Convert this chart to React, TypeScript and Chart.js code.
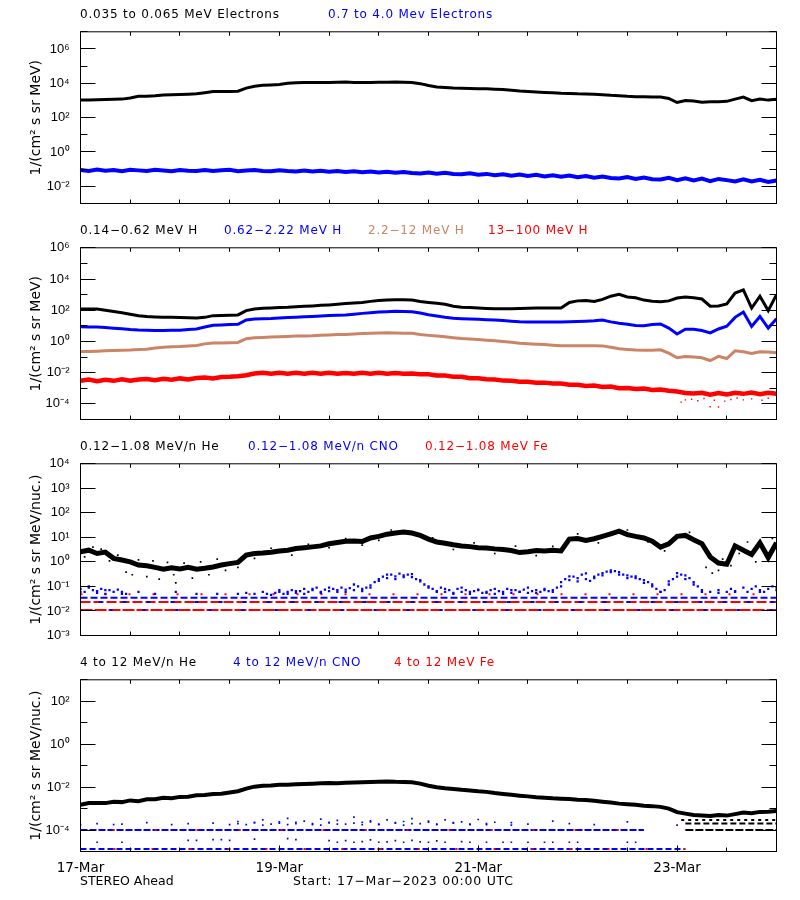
import React, { useEffect, useRef } from 'react';
import { Chart, registerables } from 'chart.js';

Chart.register(...registerables);

// ---------------- data (hours from 17-Mar-2023 00:00 UTC) ----------------
const xTickHours = [0, 48, 96, 144];
const xTickLabels = ['17-Mar', '19-Mar', '21-Mar', '23-Mar'];

// Panel 1 (2-hour samples, h = 0..168)
const p1Electrons035 = [1050,1070,1120,1150,1170,1200,1410,1740,1780,1900,
  2090,2140,2240,2340,2450,2820,3310,3310,3390,3470,
  5250,6760,7590,7940,8510,10000,10700,11000,11000,11200,
  11200,11500,12000,11200,11200,11200,11500,11700,12000,11500,
  11200,9550,7410,6030,5750,5250,5130,5010,4790,4790,
  4570,4370,3980,3550,3390,3160,2950,2820,2630,2570,
  2450,2400,2340,2190,2000,1900,1740,1660,1660,1620,
  1580,1320,760,1000,930,780,830,850,890,1200,
  1580,980,1200,1050,1170];
const p1Electrons07 = [0.088,0.078,0.094,0.082,0.09,0.077,0.092,0.085,0.079,0.091,
  0.083,0.076,0.09,0.081,0.078,0.088,0.077,0.086,0.091,0.076,
  0.084,0.088,0.079,0.075,0.086,0.078,0.074,0.084,0.073,0.08,
  0.071,0.078,0.068,0.076,0.066,0.073,0.063,0.071,0.061,0.068,
  0.06,0.056,0.064,0.054,0.061,0.052,0.05,0.057,0.047,0.053,
  0.045,0.051,0.042,0.048,0.04,0.047,0.038,0.044,0.036,0.042,
  0.034,0.04,0.032,0.037,0.031,0.029,0.035,0.027,0.033,0.026,
  0.025,0.031,0.023,0.029,0.022,0.028,0.02,0.027,0.023,0.019,
  0.026,0.019,0.024,0.018,0.022];

// Panel 2 (2-hour samples)
const p2H014 = [120,120,120,100,83,70,56,45,40,37,
  35,35,34,33,32,35,45,46,48,50,
  95,120,132,140,151,158,170,178,190,205,
  219,240,269,290,316,370,417,450,468,468,
  457,363,316,282,240,178,158,150,141,130,
  123,123,126,130,135,138,138,141,141,316,
  398,417,363,500,794,1050,708,631,447,380,
  355,398,603,692,631,525,182,190,251,1260,
  2000,138,794,95,1000];
const p2H062 = [8.7,8.5,8.3,7.8,7.1,6.5,5.8,5.4,5.2,5.1,
  5.1,5.2,5.2,5.8,6.3,8.5,11,11.5,12,12.6,
  24,27,29,30,32,34,36,38,40,43,
  46,48,50,56,63,70,76,81,85,84,
  79,66,52,43,35,31,29,27.5,26,25,
  24,22,20,18.5,17.8,17.4,17.4,17.4,17.4,18,
  19,20,21,23.4,18,14.5,12.6,10.5,10,12,
  13.2,7.2,3,6,6,5,3.5,6.3,9.5,35,
  76,9.1,40,7.2,28];
const p2H22 = [0.23,0.23,0.24,0.25,0.26,0.27,0.28,0.3,0.32,0.38,
  0.43,0.45,0.47,0.52,0.56,0.7,0.79,0.81,0.83,0.87,
  1.5,1.7,1.8,1.9,2.0,2.1,2.2,2.25,2.3,2.5,
  2.6,2.75,2.8,3.0,3.2,3.4,3.5,3.6,3.5,3.4,
  3.3,2.8,2.45,2.2,2.0,1.75,1.55,1.45,1.32,1.2,
  1.1,1.0,0.89,0.78,0.71,0.66,0.63,0.58,0.54,0.54,
  0.54,0.54,0.53,0.52,0.43,0.34,0.31,0.28,0.27,0.27,
  0.29,0.18,0.09,0.11,0.1,0.09,0.06,0.11,0.08,0.25,
  0.22,0.17,0.22,0.21,0.19];
const p2H13 = [0.003,0.0036,0.0028,0.0035,0.003,0.0038,0.0031,0.0037,0.0039,0.0033,
  0.0041,0.0035,0.0043,0.0037,0.0045,0.0049,0.0043,0.0052,0.0054,0.0059,
  0.0068,0.0088,0.0097,0.0084,0.0099,0.0086,0.0097,0.0085,0.01,0.0087,
  0.0098,0.0085,0.0096,0.0084,0.0098,0.0087,0.0097,0.0084,0.0095,0.0086,
  0.0088,0.008,0.0079,0.0066,0.0065,0.0055,0.0055,0.0044,0.0044,0.0038,
  0.0036,0.0031,0.003,0.0026,0.0026,0.0023,0.0023,0.002,0.002,0.0017,
  0.0017,0.0014,0.0015,0.0012,0.0013,0.001,0.00105,0.0009,0.00095,0.00079,
  0.00082,0.0007,0.00062,0.0005,0.00047,0.00052,0.00039,0.0005,0.0004,0.00052,
  0.00044,0.00054,0.00042,0.00052,0.00045];
const p2H13OutHours = [145,146,147.5,149,150.5,152,153,154,155.5,157,158.5,160,162,164.5,166];
const p2H13OutVals = [1.3e-4,1.8e-4,2.0e-4,1.6e-4,2.2e-4,6.6e-5,1.7e-4,6.3e-5,1.5e-4,1.9e-4,2.4e-4,1.8e-4,2.1e-4,1.7e-4,2.3e-4];

// Panel 3
const p3He = [2.6,3.0,2.2,2.5,1.4,1.2,1.0,0.75,0.7,0.6,
  0.5,0.58,0.52,0.6,0.5,0.55,0.62,0.75,0.85,0.95,
  1.9,2.2,2.3,2.5,2.8,3.0,3.5,3.8,4.1,4.5,
  5.5,6.2,7.0,7.2,6.8,9.5,11,13.5,15,16.5,
  15,12,8.5,6.5,5.8,5.0,4.5,4.2,3.8,3.7,
  3.4,3.2,2.9,2.4,2.6,2.9,2.8,3.0,2.8,8.5,
  9.0,7.5,8.8,11,14,18,13,11,9.5,7.0,
  4.0,5.5,11,12,8.0,5.5,1.6,0.9,0.8,4.5,
  3.0,2.0,6.0,1.5,6.0];
const p3HeScatterHours = [1,3,5,7,9,11,12.5,14,16,17.5,19,21,22.5,23,25,27,29,31,33,35,38,42,46,51,55,60,64,68,72,75,
  85,90,95,100,105,110,114,120,125,132,137,141,147,151,152.5,154,155,157,159,161,163,165,167];
const p3HeScatterVals = [1.6,4.0,3.3,1.1,1.9,0.38,0.3,1.2,0.25,1.1,0.2,0.95,0.3,0.14,0.9,0.22,1.0,0.3,1.3,0.45,0.6,1.4,3.6,1.9,5.2,3.8,9.0,4.8,7.5,20,
  9.5,3.2,6.0,2.2,4.4,1.8,4.3,14,6.0,20,6.5,2.8,16,0.6,0.35,0.45,1.3,0.7,2.2,6.5,1.0,3.5,9.0];
// hourly samples
const p3Cno = [0.08,0.06,0.09,0.07,0.065,0.08,0.05,0.07,0.06,0.075,0.05,
  0.05,null,null,0.06,null,null,null,0.05,null,null,null,null,0.06,null,null,null,null,0.05,null,null,null,null,0.05,null,null,
  null,null,0.05,null,0.055,null,0.05,null,0.06,0.05,null,0.055,0.06,0.05,
  0.06,0.07,0.055,0.065,0.08,0.06,0.07,0.09,0.06,0.075,0.065,0.08,0.07,0.09,0.06,0.085,0.07,0.1,0.08,0.09,0.11,
  0.15,0.2,0.25,0.22,0.3,0.26,0.33,0.28,0.3,0.24,0.2,0.16,0.12,0.1,
  0.08,0.065,0.09,0.06,0.07,0.055,0.08,0.06,0.07,0.05,0.065,0.075,0.055,0.06,0.07,0.05,0.065,0.06,0.08,0.055,0.07,0.06,0.075,0.055,0.065,0.07,0.06,0.08,0.065,0.07,0.09,
  0.15,0.2,0.18,0.25,0.22,0.3,0.2,0.17,0.25,0.3,0.35,0.4,0.45,0.42,0.38,0.3,0.28,0.25,0.22,0.2,0.18,0.15,0.12,
  0.08,0.06,0.07,
  0.12,0.2,0.25,0.3,0.28,0.22,0.15,0.1,
  0.07,null,0.06,null,0.055,null,0.06,0.08,0.065,null,0.09,0.06,null,0.1,0.07,0.06,0.08,0.1,0.07];
// second (2-hour) layer of CNO points
const p3CnoB = [0.06,0.1,0.055,0.07,null,0.06,null,null,null,null,
  null,null,null,null,null,null,null,null,null,null,
  null,null,null,0.045,0.07,0.05,0.065,0.05,0.08,0.055,
  0.09,0.06,0.075,0.12,0.065,0.09,0.17,0.3,0.2,0.24,
  0.32,0.18,0.09,0.06,0.08,0.05,0.09,0.06,0.07,0.055,
  0.08,0.05,0.07,0.06,0.09,0.055,0.07,0.06,0.1,0.26,
  0.16,0.34,0.22,0.28,0.38,0.3,0.22,0.26,0.14,0.1,
  0.06,0.16,0.35,0.2,0.12,0.06,null,0.07,null,0.06,
  null,0.08,0.06,null,0.09];
const p3FloorLevels = [0.011, 0.023, 0.035, 0.048];

// Panel 4 (2-hour samples)
const p4He = [0.0015,0.0018,0.0018,0.0018,0.0021,0.002,0.0024,0.0022,0.0027,0.0027,
  0.0032,0.003,0.0035,0.0036,0.0042,0.0043,0.0048,0.0049,0.0056,0.0064,
  0.0085,0.0105,0.0115,0.012,0.013,0.0128,0.0135,0.014,0.0145,0.015,
  0.0155,0.0152,0.016,0.0165,0.017,0.0175,0.018,0.0185,0.0178,0.0175,
  0.017,0.0145,0.0115,0.0098,0.0088,0.0082,0.0075,0.007,0.0064,0.006,
  0.0053,0.0048,0.0044,0.004,0.0037,0.0034,0.0032,0.003,0.0029,0.0028,
  0.0026,0.0025,0.0023,0.0021,0.0019,0.0017,0.0016,0.0015,0.00135,0.0013,
  0.0012,0.001,0.00068,0.00058,0.0005,0.00048,0.00045,0.0005,0.00047,0.00055,
  0.00065,0.0006,0.0007,0.00072,0.00078];
const p4CnoHi = [1.8e-4,null,2e-4,null,1.8e-4,1.9e-4,null,null,2.2e-4,null,
  null,1.8e-4,null,2e-4,null,null,2.1e-4,null,1.8e-4,
  2.5e-4,1.8e-4,2.2e-4,3e-4,1.9e-4,2.4e-4,3.5e-4,2e-4,2.6e-4,1.8e-4,3.2e-4,2.2e-4,2.8e-4,1.9e-4,4e-4,2.3e-4,
  2.7e-4,1.8e-4,3e-4,2.1e-4,2.5e-4,3.4e-4,2e-4,2.6e-4,1.9e-4,3e-4,2.2e-4,2.4e-4,1.8e-4,3.1e-4,2e-4,2.3e-4,
  null,2.2e-4,null,1.9e-4,null,null,2.6e-4,null,2e-4,null,null,1.8e-4,null,null,null,2.4e-4,null,
  null,null,null,null,1.7e-4,null,null,null,null,null,null,null,null,null,null,null,null];
const p4CnoMid = [null,null,null,null,null,null,null,null,null,null,
  null,null,null,null,null,null,null,null,null,2.0e-4,
  null,2.2e-4,1.7e-4,null,2.1e-4,1.8e-4,2.3e-4,null,2.0e-4,1.7e-4,
  2.2e-4,1.9e-4,null,2.1e-4,1.8e-4,2.4e-4,1.9e-4,null,2.2e-4,1.7e-4,
  2.0e-4,null,2.3e-4,1.8e-4,null,2.1e-4,null,1.9e-4,null,1.8e-4,
  null,null,1.7e-4,null,null,null,null,null,null,null,
  null,null,null,null,null,null,null,null,null,null,
  null,null,null,null,null,null,null,null,null,null,
  null,null,null,null,null];
const p4CnoLo = [null,null,2.7e-5,null,null,2.7e-5,null,null,null,null,
  null,null,null,3.3e-5,3.3e-5,null,3.6e-5,3.6e-5,3.3e-5,null,
  null,3.8e-5,null,null,null,4e-5,3.6e-5,null,null,null,
  3.2e-5,2.7e-5,3.2e-5,2.7e-5,2.9e-5,3.5e-5,2.7e-5,2.8e-5,3.2e-5,2.7e-5,
  3.3e-5,2.8e-5,2.7e-5,3.1e-5,2.7e-5,null,2.9e-5,2.7e-5,null,2.7e-5,
  null,2.7e-5,2.7e-5,null,2.7e-5,null,2.7e-5,2.7e-5,null,2.7e-5,
  2.7e-5,null,null,null,null,null,2.7e-5,2.7e-5,null,null,
  null,null,null,null,null,null,null,null,null,null,
  null,null,null,null,null];
const p4BlueRowLevels = [1.0e-4, 1.3e-5];
const p4BlueRowEnds = [136, 146];
const p4BlackRowLevels = [1.0e-4, 2.0e-4, 2.9e-4];
const p4BlackRowStarts = [146, 146, 145];

// ---------------- styling ----------------
const BLACK = '#000000';
const BLUE = '#0000ff';
const TAN = '#cc8466';
const RED = '#ff0000';
const FONT = 'DejaVu Sans';
const XAXIS_H = 30;

const at2h = (vals: (number | null)[]) => vals.map((v, i) => ({ x: i * 2, y: v }));
const at1h = (vals: (number | null)[]) => vals.map((v, i) => ({ x: i, y: v }));
const pairs = (xs: number[], ys: number[]) => xs.map((x, i) => ({ x, y: ys[i] }));

const lineDs = (data: any[], color: string, width: number, extra: any = {}) => ({
  data, showLine: true, borderColor: color, backgroundColor: color, borderWidth: width,
  pointRadius: 0, pointHoverRadius: 0, spanGaps: false, ...extra,
});
const dotDs = (data: any[], color: string, r: number) => ({
  data, showLine: false, pointStyle: 'rect', pointRadius: r, pointHoverRadius: 0,
  backgroundColor: color, borderWidth: 0,
});
const rowDs = (level: number, from: number, to: number, color: string, dash: number[], offset = 0) =>
  lineDs([{ x: from, y: level }, { x: to, y: level }], color, 2, { borderDash: dash, borderDashOffset: offset });

const SUP: Record<string, string> = { '0': '⁰', '1': '¹', '2': '²', '3': '³', '4': '⁴', '5': '⁵', '6': '⁶', '7': '⁷', '8': '⁸', '9': '⁹', '-': '⁻' };
const pow10Label = (k: number) => '10' + String(k).split('').map((c) => SUP[c]).join('');

type PanelSpec = {
  top: number; lo: number; hi: number; yTitle: string; allMajor: boolean; showX: boolean;
  canvasH: number; datasets: any[];
};

const panels: PanelSpec[] = [
  {
    top: 23, lo: -3, hi: 7, yTitle: '1/(cm² s sr MeV)', allMajor: false, showX: false, canvasH: 210,
    datasets: [
      lineDs(at2h(p1Electrons035), BLACK, 3),
      lineDs(at2h(p1Electrons07), BLUE, 4),
    ],
  },
  {
    top: 239, lo: -5, hi: 6, yTitle: '1/(cm² s sr MeV)', allMajor: false, showX: false, canvasH: 210,
    datasets: [
      lineDs(at2h(p2H014), BLACK, 3),
      lineDs(at2h(p2H062), BLUE, 3),
      lineDs(at2h(p2H22), TAN, 3),
      lineDs(at2h(p2H13), RED, 4.5),
      dotDs(pairs(p2H13OutHours, p2H13OutVals), RED, 1),
    ],
  },
  {
    top: 455, lo: -3, hi: 4, yTitle: '1/(cm² s sr MeV/nuc.)', allMajor: true, showX: false, canvasH: 210,
    datasets: [
      lineDs(at2h(p3He), BLACK, 5),
      dotDs(pairs(p3HeScatterHours, p3HeScatterVals), BLACK, 1.2),
      dotDs(at1h(p3Cno), BLUE, 1.6),
      dotDs(at2h(p3CnoB), BLUE, 1.6),
      rowDs(p3FloorLevels[3], 0, 168, RED, [2, 22]),
      rowDs(p3FloorLevels[2], 0, 168, BLUE, [7, 3]),
      rowDs(p3FloorLevels[1], 0, 168, BLUE, [4, 20], 6),
      rowDs(p3FloorLevels[1], 0, 168, RED, [10, 3]),
      rowDs(p3FloorLevels[0], 0, 168, BLUE, [3, 30], 4),
      rowDs(p3FloorLevels[0], 0, 168, RED, [12, 2]),
    ],
  },
  {
    top: 671, lo: -5, hi: 3, yTitle: '1/(cm² s sr MeV/nuc.)', allMajor: false, showX: true, canvasH: 229,
    datasets: [
      lineDs(at2h(p4He), BLACK, 4),
      dotDs(at2h(p4CnoHi), BLUE, 1.2),
      dotDs(at2h(p4CnoMid), BLUE, 1.2),
      dotDs(at2h(p4CnoLo), BLUE, 1.2),
      rowDs(p4BlueRowLevels[0], 0, p4BlueRowEnds[0], RED, [2, 40], 10),
      rowDs(p4BlueRowLevels[0], 0, p4BlueRowEnds[0], BLUE, [7, 2]),
      rowDs(p4BlueRowLevels[1], 0, p4BlueRowEnds[1], RED, [2, 36], 5),
      rowDs(p4BlueRowLevels[1], 0, p4BlueRowEnds[1], BLUE, [6, 3]),
      rowDs(p4BlackRowLevels[0], p4BlackRowStarts[0], 168, BLACK, [8, 2]),
      rowDs(p4BlackRowLevels[1], p4BlackRowStarts[1], 168, BLACK, [6, 3]),
      rowDs(p4BlackRowLevels[2], p4BlackRowStarts[2], 168, BLACK, [3, 4]),
    ],
  },
];

const framePlugin = {
  id: 'frame',
  afterDraw(chart: any, _args: any, opts: any) {
    const { ctx, chartArea: a, scales } = chart;
    ctx.save();
    ctx.strokeStyle = '#000';
    ctx.lineWidth = 1;
    ctx.strokeRect(a.left, a.top, a.right - a.left, a.bottom - a.top);
    ctx.beginPath();
    const ys = scales.y;
    ys.ticks.forEach((t: any) => {
      const k = Math.round(Math.log10(t.value));
      const major = opts.allMajor || k % 2 === 0;
      const len = major ? 15 : 7;
      const py = Math.floor(ys.getPixelForValue(t.value)) + 0.5;
      ctx.moveTo(a.left, py); ctx.lineTo(a.left + len, py);
      ctx.moveTo(a.right, py); ctx.lineTo(a.right - len, py);
    });
    const xs = scales.x;
    xs.ticks.forEach((t: any) => {
      const px = Math.floor(xs.getPixelForValue(t.value)) + 0.5;
      const lab = xTickHours.indexOf(t.value) >= 0;
      ctx.moveTo(px, a.top); ctx.lineTo(px, a.top + 4);
      ctx.moveTo(px, a.bottom); ctx.lineTo(px, a.bottom - (lab && opts.showX ? 6 : 4));
    });
    ctx.stroke();
    ctx.restore();
  },
};

function makeConfig(p: PanelSpec): any {
  const xh = p.showX ? XAXIS_H : 0;
  const padB = p.canvasH - 10.5 - 180 - xh;
  return {
    type: 'scatter',
    data: { datasets: p.datasets },
    options: {
      animation: false,
      responsive: false,
      maintainAspectRatio: false,
      events: [],
      layout: { padding: { left: 0, right: 23.5, top: 10.5, bottom: padB } },
      plugins: {
        legend: { display: false },
        tooltip: { enabled: false },
        frame: { allMajor: p.allMajor, showX: p.showX },
      },
      scales: {
        x: {
          type: 'linear', min: 0, max: 168,
          grid: { display: false, drawTicks: false },
          border: { display: false },
          afterFit: (s: any) => { s.height = xh; },
          ticks: {
            display: p.showX, stepSize: 12, autoSkip: false, maxRotation: 0, minRotation: 0,
            padding: 9, color: '#000', font: { family: FONT, size: 13.5 },
            callback: (v: number) => {
              const i = xTickHours.indexOf(v);
              return i >= 0 ? xTickLabels[i] : '';
            },
          },
        },
        y: {
          type: 'logarithmic', min: Math.pow(10, p.lo), max: Math.pow(10, p.hi),
          grid: { display: false, drawTicks: false },
          border: { display: false },
          afterFit: (s: any) => { s.width = 80.5; },
          afterBuildTicks: (s: any) => {
            const t = [];
            for (let k = p.lo; k <= p.hi; k++) t.push({ value: Math.pow(10, k) });
            s.ticks = t;
          },
          ticks: {
            autoSkip: false, padding: 11, color: '#000',
            font: { family: 'Liberation Sans', size: 13 },
            callback: (v: number) => {
              const k = Math.round(Math.log10(v));
              return p.allMajor || k % 2 === 0 ? pow10Label(k) : '';
            },
          },
          title: {
            display: true, text: p.yTitle, color: '#000',
            font: { family: FONT, size: 14, lineHeight: 1.2 },
            padding: { top: 28, bottom: 0 },
          },
        },
      },
    },
    plugins: [framePlugin],
  };
}

function PanelChart({ spec }: { spec: PanelSpec }) {
  const ref = useRef<HTMLCanvasElement>(null);
  useEffect(() => {
    const chart = new Chart(ref.current as HTMLCanvasElement, makeConfig(spec));
    return () => chart.destroy();
  }, [spec]);
  return (
    <canvas
      ref={ref}
      width={800}
      height={spec.canvasH}
      style={{ position: 'absolute', left: 0, top: spec.top - 10, width: 800, height: spec.canvasH }}
    />
  );
}

function Label({ x, base, color = '#000', size = 12, ls = 0, children }: any) {
  return (
    <div
      style={{
        position: 'absolute', left: x, top: base - 0.846 * size, fontFamily: FONT, fontSize: size,
        lineHeight: `${size}px`, color, letterSpacing: ls, whiteSpace: 'nowrap',
      }}
    >
      {children}
    </div>
  );
}

const panelTitles: { x: number; color: string; text: string }[][] = [
  [{ x: 80, color: BLACK, text: '0.035 to 0.065 MeV Electrons' }, { x: 328, color: BLUE, text: '0.7 to 4.0 Mev Electrons' }],
  [{ x: 80, color: BLACK, text: '0.14-0.62 MeV H' }, { x: 224, color: BLUE, text: '0.62-2.22 MeV H' },
   { x: 368, color: TAN, text: '2.2-12 MeV H' }, { x: 488, color: RED, text: '13-100 MeV H' }],
  [{ x: 80, color: BLACK, text: '0.12-1.08 MeV/n He' }, { x: 248, color: BLUE, text: '0.12-1.08 MeV/n CNO' },
   { x: 425, color: RED, text: '0.12-1.08 MeV Fe' }],
  [{ x: 80, color: BLACK, text: '4 to 12 MeV/n He' }, { x: 233, color: BLUE, text: '4 to 12 MeV/n CNO' },
   { x: 394, color: RED, text: '4 to 12 MeV Fe' }],
];

export default function App() {
  return (
    <div style={{ position: 'absolute', left: 0, top: 0, width: 800, height: 900, background: '#fff', overflow: 'hidden' }}>
      {panels.map((p, i) => <PanelChart key={i} spec={p} />)}
      {panelTitles.map((row, i) =>
        row.map((t, j) => (
          <Label key={`${i}-${j}`} x={t.x} base={panels[i].top - 5} color={t.color} size={12} ls={0.8}>
            {t.text.replace(/-/g, '\u2212')}
          </Label>
        )),
      )}
      <Label x={80} base={885.5} size={12.5}>STEREO Ahead</Label>
      <Label x={293} base={885.5} size={12.5} ls={0.75}>Start: 17−Mar−2023 00:00 UTC</Label>
    </div>
  );
}
